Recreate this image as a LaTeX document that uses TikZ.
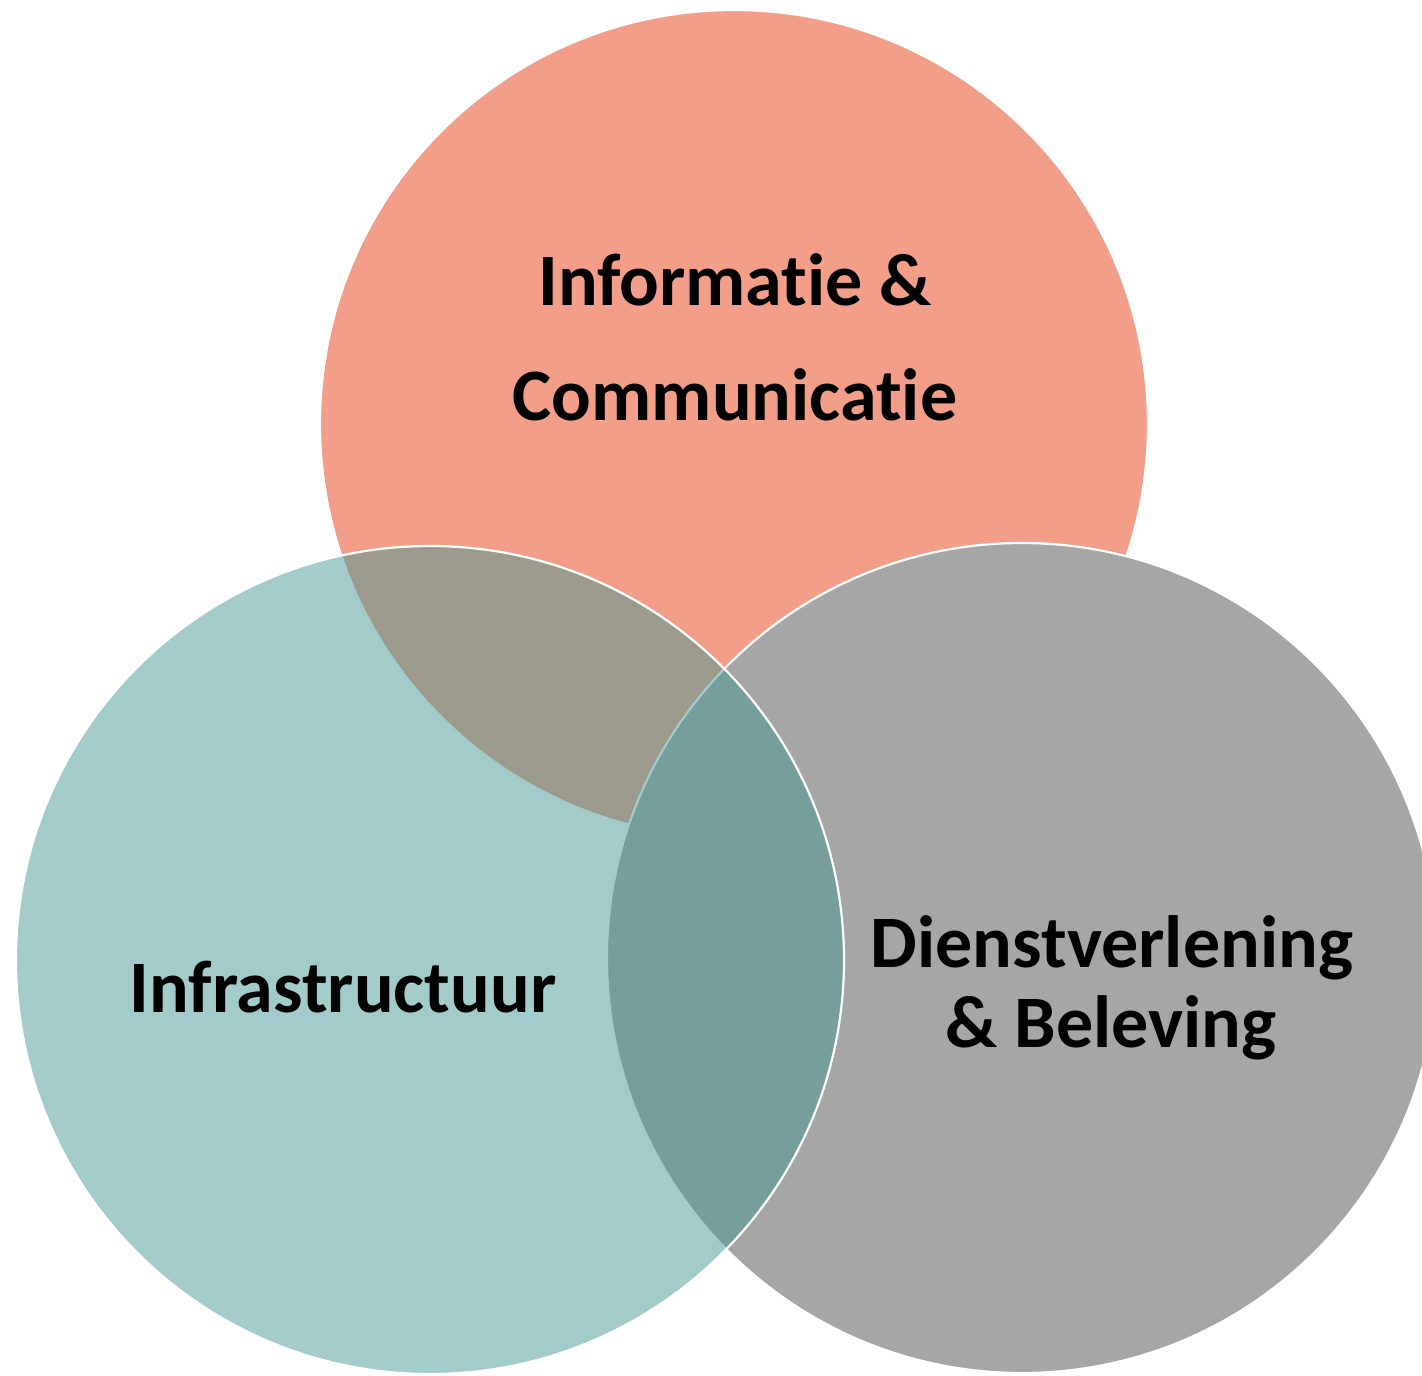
\documentclass[tikz,border=0pt]{standalone}
\usepackage{fontspec}
\setmainfont{Carlito}[Ligatures=NoCommon]
\definecolor{salmon}{RGB}{242,158,136}
\definecolor{greyc}{RGB}{166,166,166}
\definecolor{tealc}{RGB}{69,151,147}
\begin{document}
\begin{tikzpicture}[x=1pt,y=-1pt,
  venn/.style={circle, draw=white, line width=2.2pt, minimum size=#1, inner sep=0pt},
  lbl/.style={anchor=base, inner sep=0pt, font=\fontsize{74}{80}\selectfont\bfseries, text=black}]
\useasboundingbox (0,0) rectangle (1422,1376);
\clip (0,0) rectangle (1422,1376);
\node[venn=828pt, fill=salmon] (ctop) at (734,424) {};
\node[venn=830pt, fill=greyc] (cright) at (1022,958) {};
\node[venn=828pt, fill=tealc, fill opacity=0.5] (cleft) at (430,960) {};
\node[lbl] (t1) at (735,305) {Informatie \&};
\node[lbl] (t2) at (735,420) {Communicatie};
\node[lbl] (t3) at (343,1012) {Infrastructuur};
\node[lbl] (t4) at (1112,967) {Dienstverlening};
\node[lbl] (t5) at (1111,1047) {\& Beleving};
\end{tikzpicture}
\end{document}
